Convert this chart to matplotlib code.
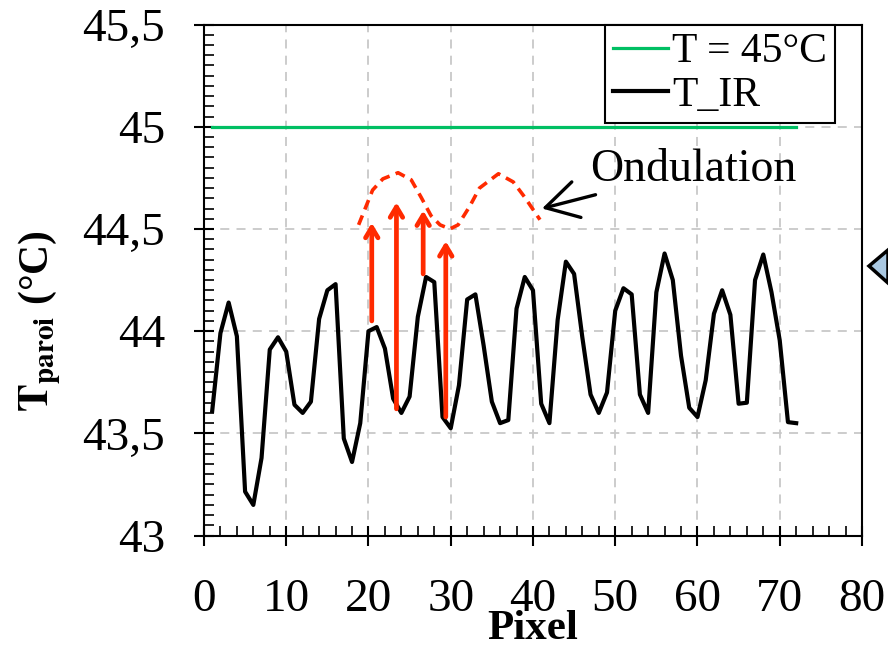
import numpy as np
import matplotlib
matplotlib.use("Agg")
import matplotlib.pyplot as plt
from matplotlib.patches import Polygon

plt.rcParams['font.family'] = ['Liberation Serif', 'DejaVu Serif']
plt.rcParams['mathtext.fontset'] = 'stix'

# données
pixel = np.arange(1, 73)
t_ir = [43.61, 43.99, 44.14, 43.975, 43.215, 43.15, 43.38, 43.91, 43.97, 43.90,
        43.64, 43.60, 43.655, 44.06, 44.20, 44.23, 43.475, 43.36, 43.55, 44.00,
        44.02, 43.915, 43.67, 43.60, 43.68, 44.07, 44.265, 44.24, 43.58, 43.525,
        43.735, 44.155, 44.18, 43.93, 43.655, 43.55, 43.565, 44.11, 44.265, 44.20,
        43.645, 43.55, 44.055, 44.34, 44.28, 43.97, 43.69, 43.60, 43.70, 44.10,
        44.21, 44.18, 43.69, 43.60, 44.19, 44.38, 44.25, 43.88, 43.625, 43.58,
        43.76, 44.085, 44.20, 44.08, 43.645, 43.65, 44.25, 44.375, 44.19, 43.955,
        43.555, 43.55]
ref_x = [1, 72]
ref_t = [45, 45]

# ondulation (courbe pointillée rouge)
ond_x = [18.8, 19.7, 20.5, 21.75, 23.6, 25.2, 26.4, 27.6, 28.7, 29.9, 30.9,
         32.3, 33.5, 35.8, 37.6, 39.0, 40.85]
ond_y = [44.52, 44.61, 44.69, 44.745, 44.775, 44.74, 44.655, 44.565, 44.52,
         44.50, 44.52, 44.61, 44.70, 44.77, 44.73, 44.655, 44.545]

# flèches rouges
arr_x = [20.4, 23.4, 26.65, 29.4]
arr_y0 = [44.05, 43.62, 44.28, 43.58]
arr_y1 = [44.53, 44.63, 44.59, 44.44]

y_ticks = [43, 43.5, 44, 44.5, 45, 45.5]
y_labels = ['43', '43,5', '44', '44,5', '45', '45,5']
x_ticks = [0, 10, 20, 30, 40, 50, 60, 70, 80]

fig = plt.figure(figsize=(8.88, 6.47), dpi=100)
ax = fig.add_axes([0.2297, 0.1722, 0.741, 0.7899])

ax.plot(ref_x, ref_t, color='#00BF63', lw=2.3, label='T = 45°C', zorder=3)
ax.plot(pixel, t_ir, color='black', lw=3, label='T_IR', zorder=3)

ax.plot(ond_x, ond_y, color='#FF2A00', lw=2.6, ls=(0, (2.8, 1.8)), zorder=4)
for x, y0, y1 in zip(arr_x, arr_y0, arr_y1):
    ax.annotate('', xy=(x, y1), xytext=(x, y0),
                arrowprops=dict(arrowstyle='->,head_length=0.75,head_width=0.45',
                                color='#FF2A00', lw=3.4, shrinkA=0, shrinkB=0),
                zorder=4)

ax.annotate('Ondulation', xy=(41.1, 44.60), xytext=(46.9, 44.79),
            fontsize=33, va='center', ha='left',
            arrowprops=dict(arrowstyle='->,head_length=0.7,head_width=0.4',
                            color='black', lw=2.4, shrinkA=3, shrinkB=0))

ax.set_xlim(0, 80)
ax.set_ylim(43, 45.5)
ax.set_xticks(x_ticks)
ax.set_xticklabels([str(v) for v in x_ticks])
ax.set_yticks(y_ticks)
ax.set_yticklabels(y_labels)
ax.set_xticks(np.arange(0, 81, 2), minor=True)
ax.set_yticks(np.arange(43, 45.51, 0.05), minor=True)
ax.tick_params(which='major', direction='inout', length=14, width=1.5,
               labelsize=34, pad=21)
ax.tick_params(axis='x', which='major', pad=24)
ax.tick_params(which='minor', direction='in', length=7, width=1.2)
ax.grid(True, which='major', color='#C8C8C8', ls=(0, (5, 4)), lw=1.3)
for s in ax.spines.values():
    s.set_linewidth(1.5)

ax.set_xlabel('Pixel', fontsize=31, fontweight='bold', labelpad=-8)
ax.set_ylabel(r'$\mathbf{T_{paroi}}$ (°C)', fontsize=30, fontweight='bold')
ax.yaxis.set_label_coords(-0.216, 0.42)

leg = ax.legend(loc='upper right', bbox_to_anchor=(0.959, 1.0),
                borderaxespad=0, fontsize=30, handlelength=1.3,
                handletextpad=0.1, labelspacing=0.12, borderpad=0.2,
                fancybox=False, framealpha=1, edgecolor='black')
leg.get_frame().set_linewidth(1.5)

# morceau de flèche coupé à droite
tri = Polygon([[869 / 888, 1 - 266 / 647], [888 / 888, 1 - 250 / 647],
               [888 / 888, 1 - 283 / 647]], closed=True,
              transform=fig.transFigure, facecolor='#A9C8E2',
              edgecolor='black', lw=2.5)
fig.patches.append(tri)

fig.savefig('out.png', dpi=100)
